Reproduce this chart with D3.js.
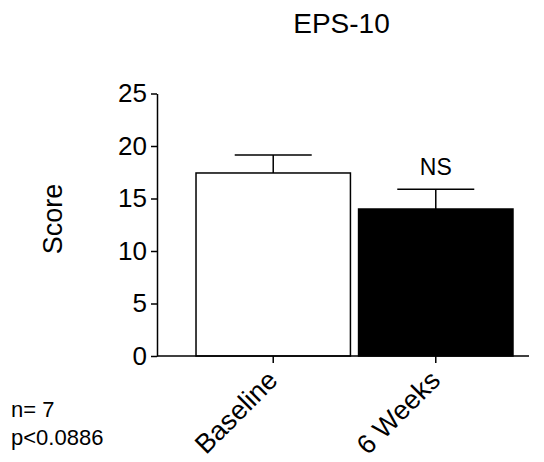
<!DOCTYPE html>
<html>
<head>
<meta charset="utf-8">
<script src="https://d3js.org/d3.v7.min.js"></script>
<style>
  body { margin: 0; background: #fff; }
  text { font-family: Arial, "Liberation Sans", sans-serif; fill: #000; }
</style>
</head>
<body>
<div id="chart"></div>
<script>
// chart data
var groups = ["Baseline", "6 Weeks"];
var means = [17.43, 14.0];
var sems = [1.71, 1.87];
var fills = ["#ffffff", "#000000"];
var yTicks = [0, 5, 10, 15, 20, 25];
var notes = ["n= 7", "p<0.0886"];

var svgWidth = 544;
var svgHeight = 462;

var svg = d3.select("#chart")
    .append("svg")
    .attr("width", svgWidth)
    .attr("height", svgHeight);

// plot area in page coordinates
var plotLeft = 157, plotRight = 529, plotTop = 93.5, plotBottom = 356;

var xScale = d3.scaleBand()
    .domain(groups)
    .range([157, 552])
    .paddingInner(0.05)
    .paddingOuter(0.24);

var yScale = d3.scaleLinear()
    .domain([0, 25])
    .range([plotBottom, plotTop]);

// title
svg.append("text")
    .attr("x", 341.5)
    .attr("y", 33)
    .attr("text-anchor", "middle")
    .attr("font-size", 28)
    .text("EPS-10");

// bars
svg.selectAll(".bar")
    .data(groups)
    .enter()
    .append("rect")
    .attr("class", "bar")
    .attr("x", d => xScale(d))
    .attr("y", (d, i) => yScale(means[i]))
    .attr("width", xScale.bandwidth())
    .attr("height", (d, i) => plotBottom - yScale(means[i]))
    .attr("fill", (d, i) => fills[i])
    .attr("stroke", "#000")
    .attr("stroke-width", 1.5);

// error bars (upper only)
var capHalf = 38.5;
groups.forEach(function (g, i) {
    var cx = xScale(g) + xScale.bandwidth() / 2;
    svg.append("line")
        .attr("x1", cx).attr("x2", cx)
        .attr("y1", yScale(means[i]))
        .attr("y2", yScale(means[i] + sems[i]))
        .attr("stroke", "#000")
        .attr("stroke-width", 1.5);
    svg.append("line")
        .attr("x1", cx - capHalf).attr("x2", cx + capHalf)
        .attr("y1", yScale(means[i] + sems[i]))
        .attr("y2", yScale(means[i] + sems[i]))
        .attr("stroke", "#000")
        .attr("stroke-width", 1.5);
});

// NS label above 6 Weeks
svg.append("text")
    .attr("x", xScale("6 Weeks") + xScale.bandwidth() / 2)
    .attr("y", 175)
    .attr("text-anchor", "middle")
    .attr("font-size", 23)
    .text("NS");

// y axis
var yAxis = svg.append("g")
    .attr("transform", `translate(${plotLeft},0)`)
    .call(d3.axisLeft(yScale).tickValues(yTicks).tickSize(6).tickPadding(4).tickSizeOuter(0));
yAxis.selectAll("text").attr("font-size", 26).attr("font-family", "Arial, 'Liberation Sans', sans-serif");
yAxis.selectAll("line, path").attr("stroke", "#000").attr("stroke-width", 1.5);

// x axis
var xAxis = svg.append("g")
    .attr("transform", `translate(0,${plotBottom})`)
    .call(d3.axisBottom(xScale).tickSize(7).tickSizeOuter(0));
xAxis.select(".domain").remove();
xAxis.append("line")
    .attr("x1", plotLeft).attr("x2", plotRight)
    .attr("y1", 0).attr("y2", 0)
    .attr("stroke", "#000")
    .attr("stroke-width", 1.5);
xAxis.selectAll("line").attr("stroke", "#000").attr("stroke-width", 1.5);
xAxis.selectAll(".tick text")
    .attr("font-size", 27)
    .attr("font-family", "Arial, 'Liberation Sans', sans-serif")
    .attr("text-anchor", "end")
    .attr("y", 0)
    .attr("dy", 0)
    .attr("transform", "translate(6,26) rotate(-45)");

// y axis label
svg.append("text")
    .attr("transform", "translate(62,219) rotate(-90)")
    .attr("text-anchor", "middle")
    .attr("font-size", 27)
    .text("Score");

// notes
svg.selectAll(".note")
    .data(notes)
    .enter()
    .append("text")
    .attr("class", "note")
    .attr("x", 11)
    .attr("y", (d, i) => 417 + i * 28)
    .attr("font-size", 22)
    .text(d => d);
</script>
</body>
</html>
